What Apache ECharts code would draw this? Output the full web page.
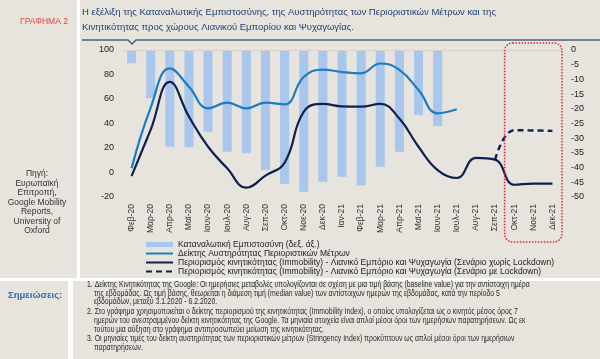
<!DOCTYPE html>
<html>
<head>
<meta charset="utf-8">
<script src="https://cdn.jsdelivr.net/npm/echarts/dist/echarts.min.js"></script>
<style>
html,body{margin:0;padding:0;background:#ffffff;}
#chart{width:600px;height:359px;}
</style>
</head>
<body>
<div id="chart"></div>
<script>
// ---- data ----
var categories = ['Φεβ-20','Μαρ-20','Απρ-20','Μαϊ-20','Ιουν-20','Ιουλ-20','Αυγ-20','Σεπ-20','Οκτ-20','Νοε-20','Δεκ-20','Ιαν-21','Φεβ-21','Μαρ-21','Απρ-21','Μαϊ-21','Ιουν-21','Ιουλ-21','Αυγ-21','Σεπ-21','Οκτ-21','Νοε-21','Δεκ-21'];
var confidence = [-4.5,-16.4,-32.9,-33.1,-27.8,-34.6,-35.1,-40.8,-45.6,-48.2,-44.8,-43.1,-46.1,-39.7,-34.6,-22.1,-25.9,null,null,null,null,null,null];
var stringency = [3.4,53,85,70,52.4,57,52.4,57,55.6,78,84,82,81,89,83.7,67.3,48.3,51.6,null,null,null,null,null];
var immobilityNoLockdown = [-2.9,35,74,45.6,21,3.4,-12.4,-2.5,8,49.6,56,54,53.7,56,44,21,2,-4.5,12,10.5,-10,-9,-9];
var immobilityLockdown = [null,null,null,null,null,null,null,null,null,null,null,null,null,null,null,null,null,null,null,10.5,34.5,34.3,34];
var leftTicks = {min:-20,max:100,interval:20};
var rightTicks = {min:-50,max:0,interval:5};

var seriesNames = [
  'Καταναλωτική Εμπιστοσύνη (δεξ. άξ.)',
  'Δείκτης Αυστηρότητας Περιοριστικών Μέτρων',
  'Περιορισμός κινητικότητας (Immobility) - Λιανικό Εμπόριο και Ψυχαγωγία (Σενάριο χωρίς Lockdown)',
  'Περιορισμός κινητικότητας (Immobility) - Λιανικό Εμπόριο και Ψυχαγωγία (Σενάριο με Lockdown)'
];
var titleLines = [
  'Η εξέλιξη της Καταναλωτικής Εμπιστοσύνης, της Αυστηρότητας των Περιοριστικών Μέτρων και της',
  'Κινητικότητας προς χώρους Λιανικού Εμπορίου και Ψυχαγωγίας.'
];
var sourceText = 'Πηγή:\nΕυρωπαϊκή\nΕπιτροπή,\nGoogle Mobility\nReports,\nUniversity of\nOxford';
var notes = [
  ['1. Δείκτης Κινητικότητας της Google: Οι ημερήσιες μεταβολές υπολογίζονται σε σχέση με μια τιμή βάσης (baseline value) για την αντίστοιχη ημέρα', 0],
  ['της εβδομάδας. Ως τιμή βάσης, θεωρείται η διάμεση τιμή (median value) των αντίστοιχων ημερών της εβδομάδας, κατά την περίοδο 5', 1],
  ['εβδομάδων, μεταξύ 3.1.2020 - 6.2.2020.', 1],
  ['2. Στο γράφημα χρησιμοποιείται ο δείκτης περιορισμού της κινητικότητας (Immobility Index), ο οποίος υπολογίζεται ως ο κινητός μέσος όρος 7', 0],
  ['ημερών του ανεστραμμένου δείκτη κινητικότητας της Google. Τα μηνιαία στοιχεία είναι απλοί μέσοι όροι των ημερήσιων παρατηρήσεων. Ως εκ', 1],
  ['τούτου μια αύξηση στο γράφημα αντιπροσωπεύει μείωση της κινητικότητας.', 1],
  ['3. Οι μηνιαίες τιμές του δείκτη αυστηρότητας των περιοριστικών μέτρων (Stringency Index) προκύπτουν ως απλοί μέσοι όροι των ημερήσιων', 0],
  ['παρατηρήσεων.', 1]
];
var noteY = [285, 293.5, 302, 311.5, 320.5, 329.5, 339, 347.5];

var FONT = 'Arial, "Liberation Sans", sans-serif';
var navy = '#0e2150';

var chart = echarts.init(document.getElementById('chart'), null, {renderer:'canvas'});

var option = {
  backgroundColor: '#ffffff',
  animation: false,
  textStyle: {fontFamily: FONT},
  grid: {left: 122, right: 38, top: 50, bottom: 162, containLabel: false, outerBoundsMode: 'none'},
  legend: {
    orient: 'vertical', left: 140, top: 235,
    itemWidth: 27, itemHeight: 5, itemGap: 0,
    textStyle: {fontSize: 8.5, color: '#222', lineHeight: 8.5, fontFamily: FONT},
    data: [
      {name: seriesNames[0], icon: 'rect'},
      {name: seriesNames[1], itemStyle: {opacity: 0}},
      {name: seriesNames[2], itemStyle: {opacity: 0}},
      {name: seriesNames[3], itemStyle: {opacity: 0}}
    ]
  },
  xAxis: {
    type: 'category', data: categories, boundaryGap: true,
    axisLine: {show: false}, axisTick: {show: false},
    axisLabel: {rotate: 90, interval: 0, fontSize: 8.5, color: '#333', margin: 7, fontFamily: FONT}
  },
  yAxis: [
    {type: 'value', min: leftTicks.min, max: leftTicks.max, interval: leftTicks.interval,
     axisLine: {show: false}, axisTick: {show: false}, splitLine: {show: false},
     axisLabel: {fontSize: 9, color: '#222', margin: 8, fontFamily: FONT}},
    {type: 'value', min: rightTicks.min, max: rightTicks.max, interval: rightTicks.interval,
     axisLine: {show: false}, axisTick: {show: false}, splitLine: {show: false},
     axisLabel: {fontSize: 9, color: '#222', margin: 9, fontFamily: FONT}}
  ],
  series: [
    {name: seriesNames[0], type: 'bar', yAxisIndex: 1, data: confidence, barWidth: 9,
     itemStyle: {color: '#a9c6ec'}, z: 1,
     markLine: {silent: true, symbol: 'none', label: {show: false},
       lineStyle: {color: '#d6d2ca', width: 1, type: 'solid'},
       data: [{yAxis: 0}]}},
    {name: seriesNames[1], type: 'line', yAxisIndex: 0, data: stringency, smooth: 0.45,
     symbol: 'none', lineStyle: {color: '#1b7cc4', width: 2.2}, itemStyle: {color: '#1b7cc4'}, z: 3},
    {name: seriesNames[2], type: 'line', yAxisIndex: 0, data: immobilityNoLockdown, smooth: 0.45,
     symbol: 'none', lineStyle: {color: navy, width: 2.2}, itemStyle: {color: navy}, z: 4},
    {name: seriesNames[3], type: 'line', yAxisIndex: 0, data: immobilityLockdown, smooth: 0.45,
     symbol: 'none', lineStyle: {color: navy, width: 2.4, type: [6, 4]}, itemStyle: {color: navy}, z: 4}
  ]
};
chart.setOption(option);

// annotation box position from the axis
var c19 = chart.convertToPixel({xAxisIndex: 0}, categories[19]);
var c20 = chart.convertToPixel({xAxisIndex: 0}, categories[20]);
var c21 = chart.convertToPixel({xAxisIndex: 0}, categories[21]);
var c22 = chart.convertToPixel({xAxisIndex: 0}, categories[22]);
var boxL = (c19 + c20) / 2;
var boxR = c22 + (c22 - c21) / 2;

var panelColor = '#e7e4de';
var graphics = [
  {type: 'rect', z: -100, shape: {x: 0, y: 0, width: 77, height: 278}, style: {fill: panelColor}, silent: true},
  {type: 'rect', z: -100, shape: {x: 80, y: 0, width: 520, height: 278}, style: {fill: panelColor}, silent: true},
  {type: 'rect', z: -100, shape: {x: 0, y: 281, width: 68, height: 78}, style: {fill: panelColor}, silent: true},
  {type: 'rect', z: -100, shape: {x: 73, y: 281, width: 527, height: 78}, style: {fill: panelColor}, silent: true},
  {type: 'text', z: 10, x: 20, y: 22, style: {text: 'ΓΡΑΦΗΜΑ 2', fill: '#e8413c', font: '8.5px ' + FONT, textVerticalAlign: 'middle'}},
  {type: 'text', z: 10, x: 82, y: 12, style: {text: titleLines[0], fill: '#1f3e72', font: '9.5px ' + FONT, textVerticalAlign: 'middle'}},
  {type: 'text', z: 10, x: 82, y: 27, style: {text: titleLines[1], fill: '#1f3e72', font: '9.5px ' + FONT, textVerticalAlign: 'middle'}},
  {type: 'polyline', z: 10, shape: {points: [[82, 40], [128, 40], [132, 44], [136, 40], [600, 40]]}, style: {stroke: '#46617e', lineWidth: 1.5, fill: null}},
  {type: 'text', z: 10, x: 37, y: 169, style: {text: sourceText, fill: '#333', font: '8.5px ' + FONT, textAlign: 'center', lineHeight: 9.5}},
  {type: 'text', z: 10, x: 8, y: 295, style: {text: 'Σημειώσεις:', fill: '#2e6db4', font: 'bold 9.5px ' + FONT, textVerticalAlign: 'middle'}},
  {type: 'rect', z: 10, shape: {x: boxL, y: 43, width: boxR - boxL, height: 199, r: 8},
   style: {fill: null, stroke: '#e3262b', lineWidth: 1.5, lineDash: [1.5, 1.5]}}
];
notes.forEach(function (n, i) {
  graphics.push({type: 'text', z: 10, x: n[1] ? 94 : 87, y: noteY[i], scaleX: 0.81,
    style: {text: n[0], fill: '#2a2a2a', font: '8.5px ' + FONT, textVerticalAlign: 'middle'}});
});
chart.setOption({graphic: graphics});
</script>
</body>
</html>
